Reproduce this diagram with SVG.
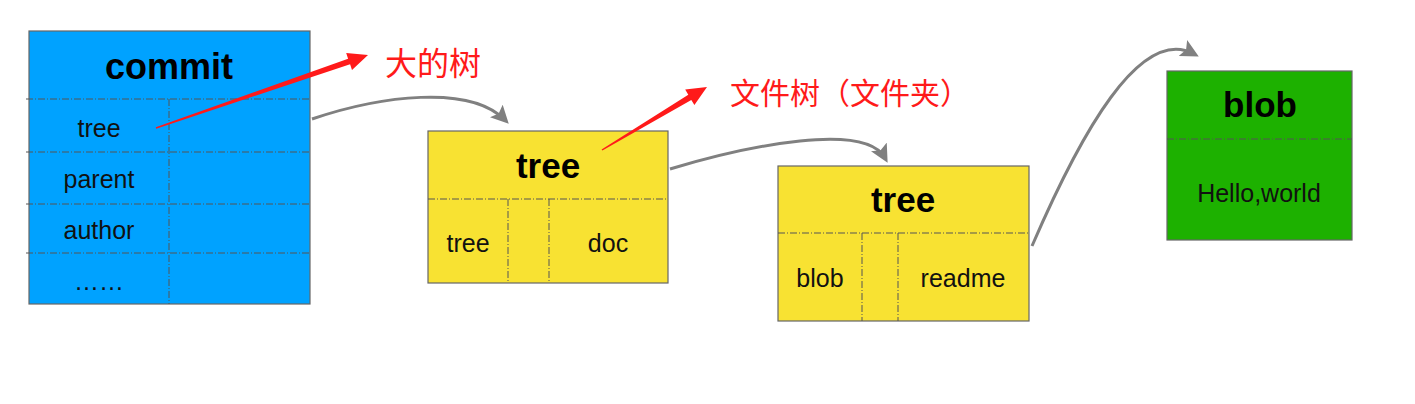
<svg xmlns="http://www.w3.org/2000/svg" width="1415" height="404" viewBox="0 0 1415 404">
<defs>
<style>
.box{stroke:#666;stroke-width:1.2}
.div{stroke:#555;stroke-width:1;stroke-dasharray:7 2 1 2;fill:none}
.hdr{font-family:"Liberation Sans",Arial,sans-serif;font-weight:bold;fill:#000;text-anchor:middle}
.lbl{font-family:"Liberation Sans",Arial,sans-serif;font-size:25px;fill:#111;text-anchor:middle}
.note{font-family:"Noto Sans CJK SC","Noto Sans",sans-serif;fill:#ff1a1a}
.conn{fill:none;stroke:#808080;stroke-width:3;marker-end:url(#ah)}
</style>
<marker id="ah" viewBox="0 0 10 10" refX="7" refY="5" markerWidth="6" markerHeight="6" orient="auto" markerUnits="strokeWidth">
<path d="M0,0 L10,5 L0,10 L2,5 Z" fill="#808080"/>
</marker>
</defs>
<rect width="1415" height="404" fill="#fff"/>

<g id="commit">
<rect class="box" x="29" y="31" width="281" height="273" fill="#00a2ff"/>
<line class="div" x1="26" y1="99" x2="310" y2="99"/>
<line class="div" x1="26" y1="152" x2="310" y2="152"/>
<line class="div" x1="26" y1="204" x2="310" y2="204"/>
<line class="div" x1="26" y1="253" x2="310" y2="253"/>
<line class="div" x1="169" y1="99" x2="169" y2="304"/>
<text class="hdr" x="169" y="79" font-size="36">commit</text>
<text class="lbl" x="99" y="137">tree</text>
<text class="lbl" x="99" y="188">parent</text>
<text class="lbl" x="99" y="239">author</text>
<text class="lbl" x="99" y="290">……</text>
</g>

<g id="tree1">
<rect class="box" x="428" y="131" width="240" height="152" fill="#f8e232"/>
<line class="div" x1="428" y1="199" x2="668" y2="199"/>
<line class="div" x1="508" y1="199" x2="508" y2="283"/>
<line class="div" x1="549" y1="199" x2="549" y2="283"/>
<text class="hdr" x="548" y="178" font-size="35">tree</text>
<text class="lbl" x="468" y="252">tree</text>
<text class="lbl" x="608" y="252">doc</text>
</g>

<g id="tree2">
<rect class="box" x="778" y="166" width="251" height="155" fill="#f8e232"/>
<line class="div" x1="778" y1="233" x2="1029" y2="233"/>
<line class="div" x1="862" y1="233" x2="862" y2="321"/>
<line class="div" x1="898" y1="233" x2="898" y2="321"/>
<text class="hdr" x="903" y="212" font-size="35">tree</text>
<text class="lbl" x="820" y="287">blob</text>
<text class="lbl" x="963" y="287">readme</text>
</g>

<g id="blob">
<rect class="box" x="1167" y="71" width="185" height="169" fill="#1db100"/>
<line class="div" x1="1167" y1="139" x2="1352" y2="139"/>
<text class="hdr" x="1260" y="117" font-size="35">blob</text>
<text class="lbl" x="1259" y="202">Hello,world</text>
</g>

<g id="note1">
<polygon fill="#ff1a1a" points="155.8,127.3 348.1,58.7 346.2,53.0 368,55 352.0,70.0 350.1,64.3 156.2,128.7"/>
<text class="note" x="385" y="75" font-size="32">大的树</text>
</g>

<g id="note2">
<polygon fill="#ff1a1a" points="601.6,149.4 688.3,94.7 685.2,89.6 707,87 694.4,105.0 691.3,99.9 602.4,150.6"/>
<text class="note" x="730" y="104" font-size="30">文件树（文件夹）</text>
</g>

<g id="connectors">
<path class="conn" d="M312,119 C380,96 470,84 505,120"/>
<path class="conn" d="M670,169 C750,145 865,122 885,158"/>
<path class="conn" d="M1032,246 C1080,135 1140,25 1194,54"/>
</g>
</svg>
